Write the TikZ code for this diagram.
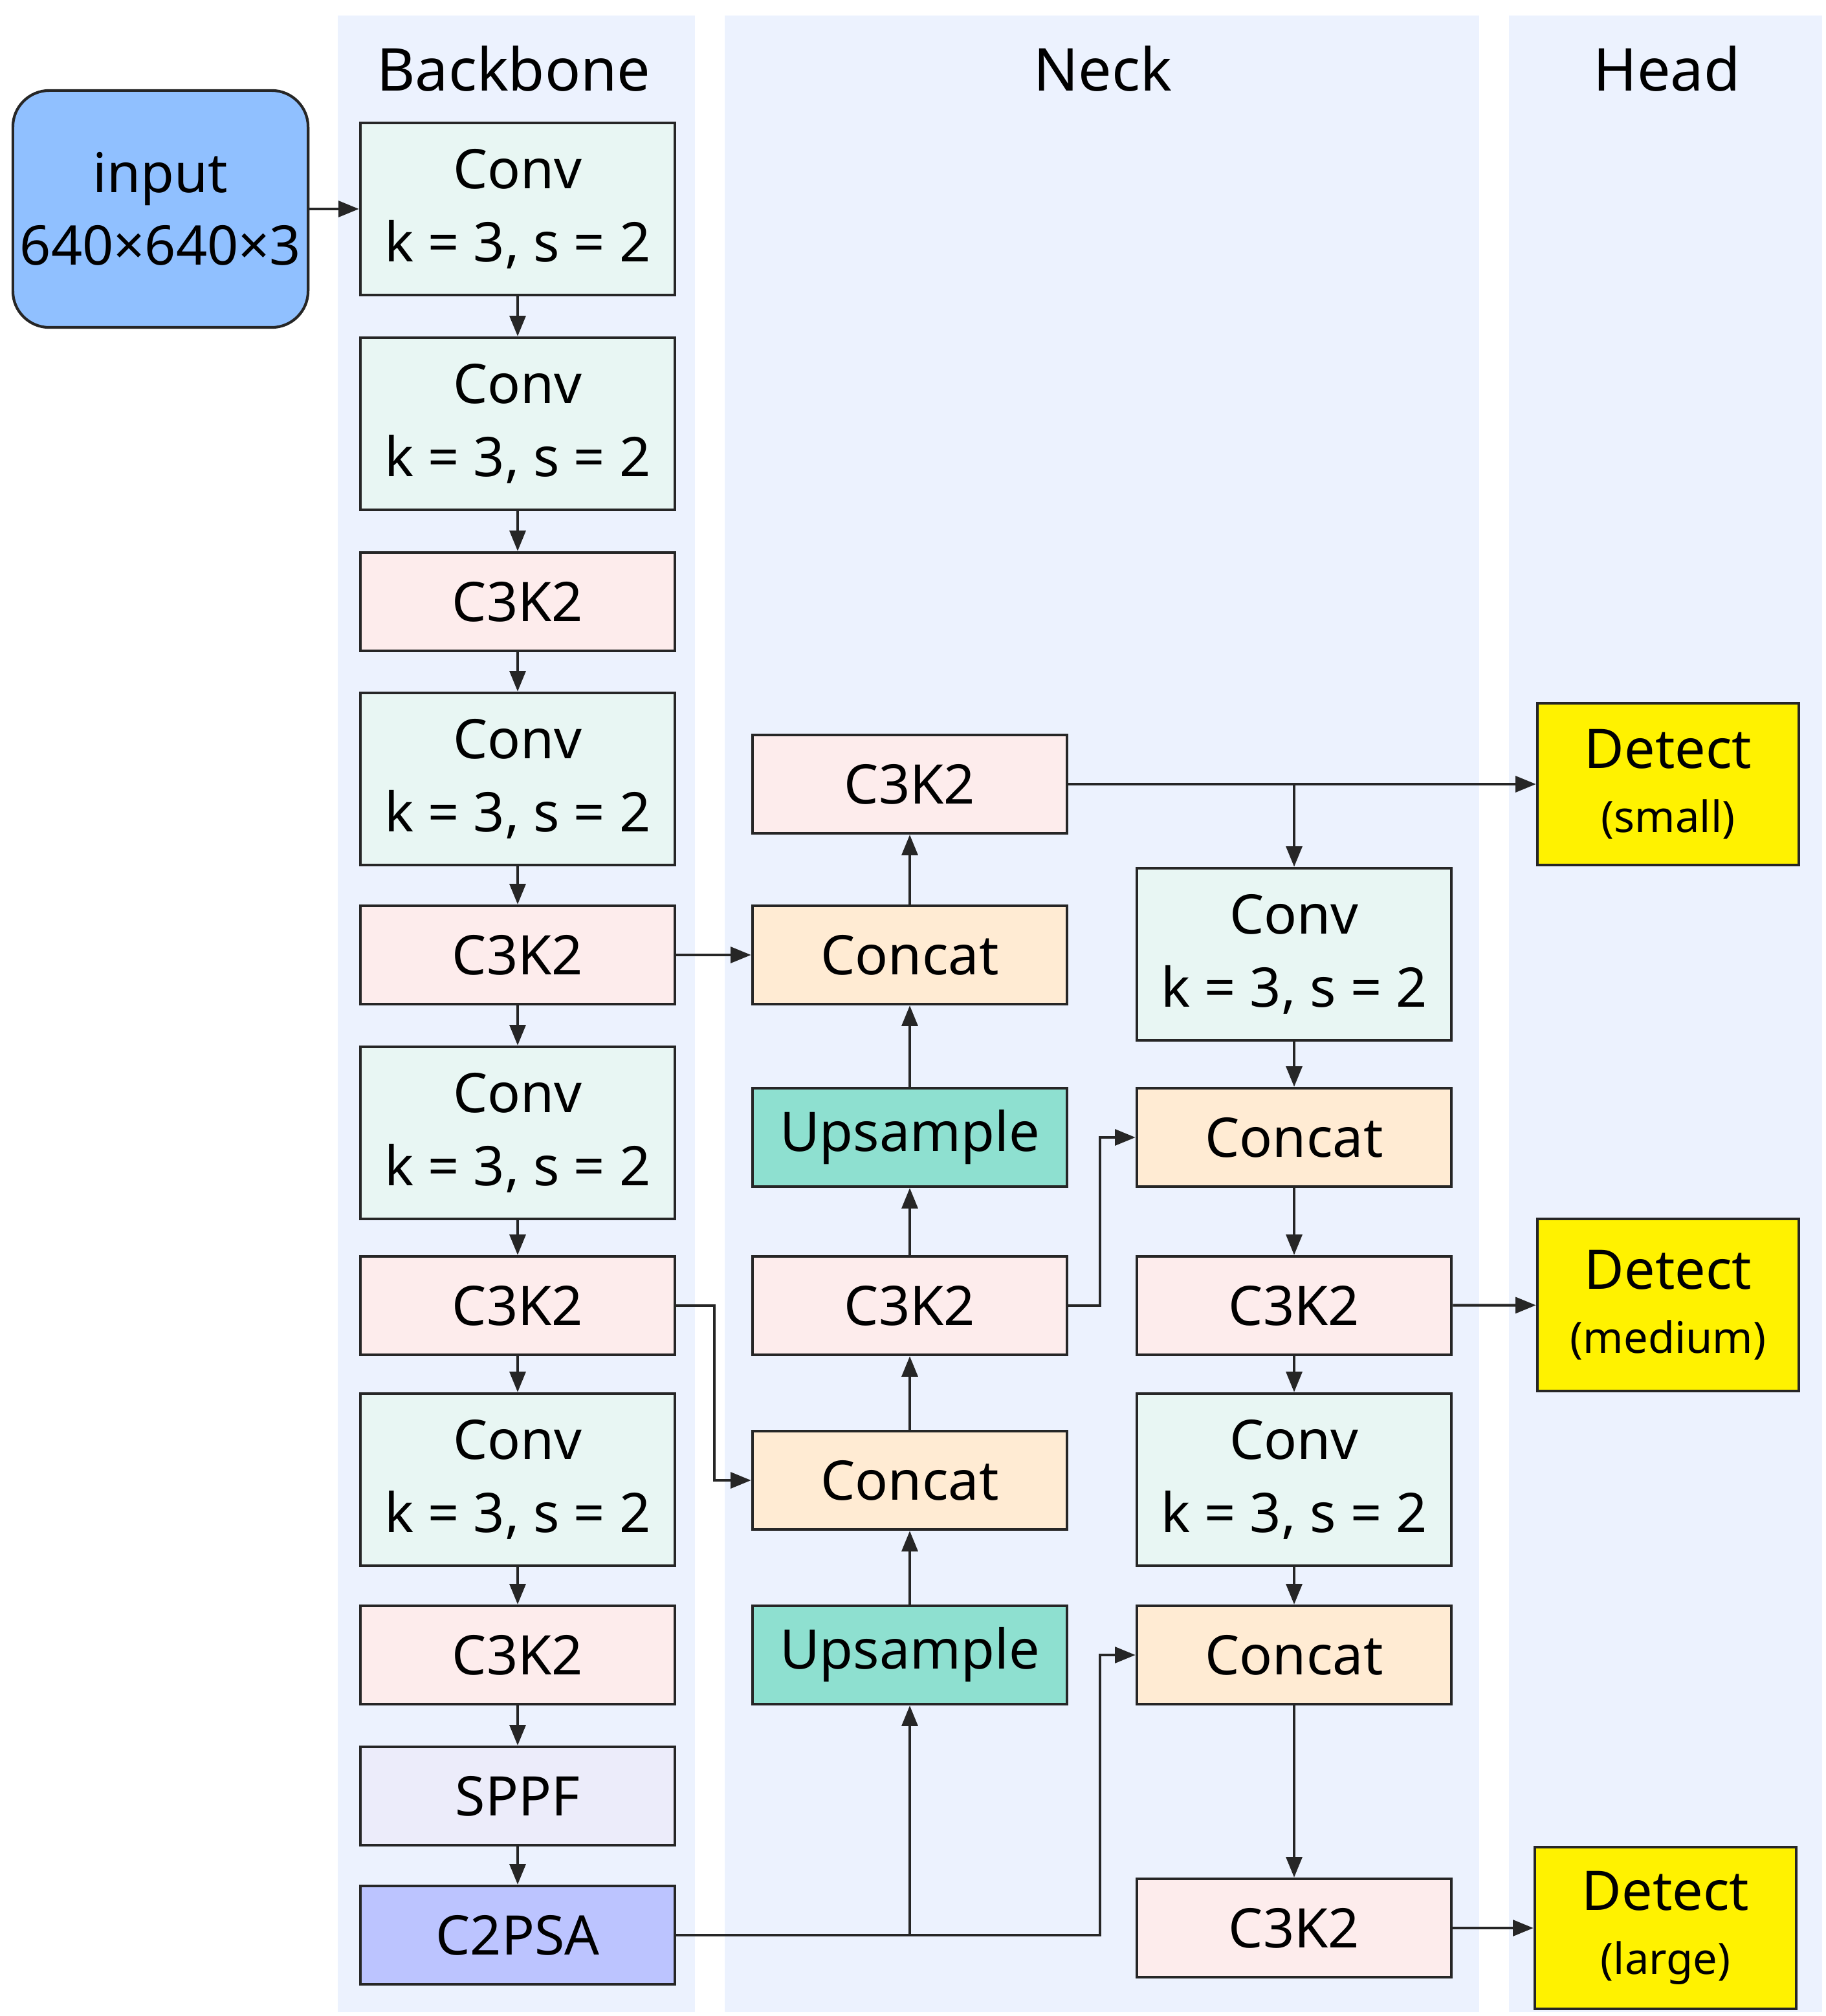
\documentclass[tikz,border=0pt]{standalone}
\usepackage{fontspec}
\setmainfont{Noto Sans}
\usetikzlibrary{arrows.meta}
\definecolor{panel}{HTML}{ECF2FE}
\definecolor{convc}{HTML}{E8F6F3}
\definecolor{c3c}{HTML}{FDECEC}
\definecolor{catc}{HTML}{FFEBD3}
\definecolor{upc}{HTML}{8EE0D0}
\definecolor{sppfc}{HTML}{ECECFA}
\definecolor{c2c}{HTML}{BCC4FF}
\definecolor{inc}{HTML}{90C0FF}
\begin{document}
\begin{tikzpicture}[x=0.01cm,y=-0.01cm,
  box/.style={draw=black!85,line width=0.6pt,minimum width=2.43cm,align=center,inner sep=0pt,font=\fontsize{12}{16}\selectfont},
  tall/.style={box,minimum height=1.33cm},
  short/.style={box,minimum height=0.76cm},
  conv/.style={tall,fill=convc},
  c3/.style={short,fill=c3c},
  cat/.style={short,fill=catc},
  up/.style={short,fill=upc},
  det/.style={box,fill=yellow,minimum width=2.02cm,minimum height=1.25cm},
  title/.style={font=\fontsize{13}{16}\selectfont\bfseries},
  arr/.style={-{Triangle[length=4.5pt,width=3.5pt]},line width=0.6pt,draw=black!85},
  ln/.style={line width=0.6pt,draw=black!85}]
\useasboundingbox (0,0) rectangle (1410.5,1558);
\fill[panel] (261,12) rectangle (537,1555);
\fill[panel] (560,12) rectangle (1143,1555);
\fill[panel] (1166,12) rectangle (1408,1555);
\node[title] (tb) at (397,53) {Backbone};
\node[title] (tn) at (852,53) {Neck};
\node[title] (th) at (1288,53) {Head};
\node[box,fill=inc,rounded corners=8pt,minimum width=2.28cm,minimum height=1.83cm] (in) at (124,161.5) {input\\640×640×3};
% backbone
\node[conv] (b1) at (400,161.5) {Conv\\k = 3, s = 2};
\node[conv] (b2) at (400,327.5) {Conv\\k = 3, s = 2};
\node[c3] (b3) at (400,465) {C3K2};
\node[conv] (b4) at (400,602) {Conv\\k = 3, s = 2};
\node[c3] (b5) at (400,738) {C3K2};
\node[conv] (b6) at (400,875.5) {Conv\\k = 3, s = 2};
\node[c3] (b7) at (400,1009) {C3K2};
\node[conv] (b8) at (400,1143.5) {Conv\\k = 3, s = 2};
\node[c3] (b9) at (400,1279) {C3K2};
\node[short,fill=sppfc] (b10) at (400,1388) {SPPF};
\node[short,fill=c2c] (b11) at (400,1495.5) {C2PSA};
% neck col1
\node[c3] (n1) at (703,606) {C3K2};
\node[cat] (n2) at (703,738) {Concat};
\node[up] (n3) at (703,879) {Upsample};
\node[c3] (n4) at (703,1009) {C3K2};
\node[cat] (n5) at (703,1144) {Concat};
\node[up] (n6) at (703,1279) {Upsample};
% neck col2
\node[conv] (m1) at (1000,737.5) {Conv\\k = 3, s = 2};
\node[cat] (m2) at (1000,879) {Concat};
\node[c3] (m3) at (1000,1009) {C3K2};
\node[conv] (m4) at (1000,1143.5) {Conv\\k = 3, s = 2};
\node[cat] (m5) at (1000,1279) {Concat};
\node[c3] (m6) at (1000,1490) {C3K2};
% head
\node[det] (d1) at (1289,606) {Detect\\[-2pt]{\fontsize{9.5}{12}\selectfont (small)}};
\node[det,minimum height=1.33cm] (d2) at (1289,1008.5) {Detect\\[-2pt]{\fontsize{9.5}{12}\selectfont (medium)}};
\node[det] (d3) at (1287,1490) {Detect\\[-2pt]{\fontsize{9.5}{12}\selectfont (large)}};
% connectors
\draw[arr] (in.east |- 0,161.5) -- (b1.west |- 0,161.5);
\foreach \a/\b in {b1/b2,b2/b3,b3/b4,b4/b5,b5/b6,b6/b7,b7/b8,b8/b9,b9/b10,b10/b11,
  n6/n5,n5/n4,n4/n3,n3/n2,n2/n1,m1/m2,m2/m3,m3/m4,m4/m5,m5/m6}
  \draw[arr] (\a) -- (\b);
\draw[arr] (b5) -- (n2);
\coordinate (k1) at (552,1009);
\draw[arr] (b7.east) -- (k1) |- (n5.west);
\coordinate (k2) at (850,1495.5);
\coordinate (k3) at (703,1495.5);
\draw[arr] (b11.east) -- (k2) |- (m5.west);
\draw[arr] (k3) -- (n6.south);
\coordinate (k4) at (1000,606);
\draw[arr] (n1.east) -- (d1.west);
\draw[arr] (k4) -- (m1.north);
\coordinate (k5) at (850,1009);
\draw[arr] (n4.east) -- (k5) |- (m2.west);
\draw[arr] (m3) -- (d2);
\draw[arr] (m6) -- (d3);
\end{tikzpicture}
\end{document}
